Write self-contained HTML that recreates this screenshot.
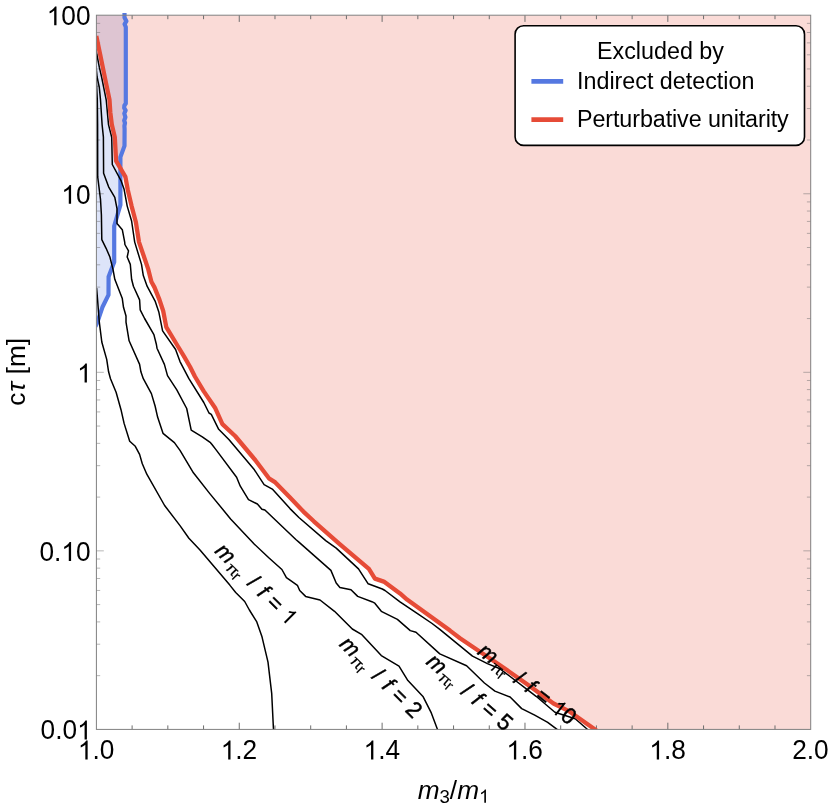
<!DOCTYPE html>
<html><head><meta charset="utf-8"><title>Exclusion plot</title>
<style>html,body{margin:0;padding:0;background:#fff;}body{width:830px;height:806px;overflow:hidden;}svg{display:block;font-family:"Liberation Sans",sans-serif;}text{white-space:pre;}</style></head><body>
<div style="will-change:transform;width:830px;height:806px">
<svg width="830" height="806" viewBox="0 0 830 806">
<rect width="830" height="806" fill="#fff"/>
<defs><clipPath id="cp"><rect x="96.4" y="15.2" width="714.3" height="714.2"/></clipPath><clipPath id="cpb"><rect x="96.4" y="13.0" width="714.3" height="716.4"/></clipPath></defs>
<g clip-path="url(#cp)">
<path d="M124.5,13.0 L124.5,17.5 L126.4,21.2 L124.6,24.2 L125.8,27.0 L125.8,103.5 L124.4,105.5 L124.2,108.0 L125.6,110.4 L124.3,113.5 L125.4,117.2 L124.2,120.5 L125.0,123.0 L124.4,126.0 L124.6,129.0 L124.5,145.9 L120.4,157.1 L120.4,204.9 L114.2,226.0 L114.2,262.0 L108.6,276.8 L108.5,294.9 L102.4,307.3 L97.4,322.2 L95.4,326.5 L95.0,13.2Z" fill="#5578e1" fill-opacity="0.2"/>
<path d="M96.3,36.0 L100.2,54.8 L105.3,79.6 L109.5,99.8 L110.3,112.2 L111.8,124.6 L114.8,137.2 L116.1,160.8 L125.4,176.9 L127.8,190.0 L131.6,206.1 L135.9,222.3 L139.0,242.1 L148.3,269.4 L151.4,281.8 L154.5,287.4 L159.5,299.9 L163.2,311.0 L166.3,327.1 L176.8,344.5 L184.3,356.9 L190.0,366.8 L194.9,376.5 L203.8,391.4 L215.0,407.7 L222.4,424.1 L235.1,436.0 L255.2,460.0 L269.3,478.7 L275.3,482.4 L290.0,497.4 L303.4,511.6 L313.8,521.3 L339.1,543.6 L368.9,568.9 L374.9,578.6 L383.8,581.6 L400.0,593.4 L407.0,599.6 L450.0,630.6 L460.0,638.3 L500.0,665.2 L528.9,685.4 L553.5,703.5 L569.4,711.4 L594.0,728.8 L596.5,730.6 L812.7,731.0 L812.7,13.2 L95.0,13.2Z" fill="#e64b37" fill-opacity="0.2"/>
</g>
<path d="M132.12,729.4v-4.0M132.12,15.2v4.0M167.83,729.4v-4.0M167.83,15.2v4.0M203.55,729.4v-4.0M203.55,15.2v4.0M239.26,729.4v-6.7M239.26,15.2v6.7M274.98,729.4v-4.0M274.98,15.2v4.0M310.69,729.4v-4.0M310.69,15.2v4.0M346.41,729.4v-4.0M346.41,15.2v4.0M382.12,729.4v-6.7M382.12,15.2v6.7M417.84,729.4v-4.0M417.84,15.2v4.0M453.55,729.4v-4.0M453.55,15.2v4.0M489.27,729.4v-4.0M489.27,15.2v4.0M524.98,729.4v-6.7M524.98,15.2v6.7M560.70,729.4v-4.0M560.70,15.2v4.0M596.41,729.4v-4.0M596.41,15.2v4.0M632.13,729.4v-4.0M632.13,15.2v4.0M667.84,729.4v-6.7M667.84,15.2v6.7M703.55,729.4v-4.0M703.55,15.2v4.0M739.27,729.4v-4.0M739.27,15.2v4.0M774.99,729.4v-4.0M774.99,15.2v4.0" stroke="#6e6e6e" stroke-width="1" fill="none"/>
<path d="M96.4,675.65h3.8M810.7,675.65h-3.8M96.4,644.21h3.8M810.7,644.21h-3.8M96.4,621.90h3.8M810.7,621.90h-3.8M96.4,604.60h3.8M810.7,604.60h-3.8M96.4,590.46h3.8M810.7,590.46h-3.8M96.4,578.51h3.8M810.7,578.51h-3.8M96.4,568.15h3.8M810.7,568.15h-3.8M96.4,559.02h3.8M810.7,559.02h-3.8M96.4,550.85h7.4M810.7,550.85h-7.4M96.4,497.10h3.8M810.7,497.10h-3.8M96.4,465.66h3.8M810.7,465.66h-3.8M96.4,443.35h3.8M810.7,443.35h-3.8M96.4,426.05h3.8M810.7,426.05h-3.8M96.4,411.91h3.8M810.7,411.91h-3.8M96.4,399.96h3.8M810.7,399.96h-3.8M96.4,389.60h3.8M810.7,389.60h-3.8M96.4,380.47h3.8M810.7,380.47h-3.8M96.4,372.30h7.4M810.7,372.30h-7.4M96.4,318.55h3.8M810.7,318.55h-3.8M96.4,287.11h3.8M810.7,287.11h-3.8M96.4,264.80h3.8M810.7,264.80h-3.8M96.4,247.50h3.8M810.7,247.50h-3.8M96.4,233.36h3.8M810.7,233.36h-3.8M96.4,221.41h3.8M810.7,221.41h-3.8M96.4,211.05h3.8M810.7,211.05h-3.8M96.4,201.92h3.8M810.7,201.92h-3.8M96.4,193.75h7.4M810.7,193.75h-7.4M96.4,140.00h3.8M810.7,140.00h-3.8M96.4,108.56h3.8M810.7,108.56h-3.8M96.4,86.25h3.8M810.7,86.25h-3.8M96.4,68.95h3.8M810.7,68.95h-3.8M96.4,54.81h3.8M810.7,54.81h-3.8M96.4,42.86h3.8M810.7,42.86h-3.8M96.4,32.50h3.8M810.7,32.50h-3.8M96.4,23.37h3.8M810.7,23.37h-3.8" stroke="#6e6e6e" stroke-width="0.5" fill="none"/>
<path clip-path="url(#cpb)" d="M124.5,13.0 L124.5,17.5 L126.4,21.2 L124.6,24.2 L125.8,27.0 L125.8,103.5 L124.4,105.5 L124.2,108.0 L125.6,110.4 L124.3,113.5 L125.4,117.2 L124.2,120.5 L125.0,123.0 L124.4,126.0 L124.6,129.0 L124.5,145.9 L120.4,157.1 L120.4,204.9 L114.2,226.0 L114.2,262.0 L108.6,276.8 L108.5,294.9 L102.4,307.3 L97.4,322.2 L95.4,326.5" fill="none" stroke="#5578e1" stroke-width="4.2" stroke-linejoin="round"/>
<g clip-path="url(#cp)" fill="none" stroke="#000" stroke-width="1.5" stroke-linejoin="round">
<path d="M96.6,288.0 L97.6,300.0 L99.3,322.2 L101.8,342.0 L106.7,359.4 L108.6,371.8 L110.5,378.7 L116.1,392.3 L121.0,409.7 L124.1,423.4 L129.7,441.3 L135.3,446.3 L139.6,454.4 L142.3,463.8 L146.8,474.2 L164.6,505.5 L180.0,525.6 L188.9,538.3 L200.0,550.1 L229.8,585.1 L235.7,592.5 L244.7,601.5 L249.4,610.0 L256.8,621.9 L262.0,636.8 L268.0,662.1 L271.7,693.4 L273.5,730.0"/>
<path d="M96.2,78.0 L97.3,99.8 L97.6,124.6 L97.7,176.9 L100.5,199.3 L101.4,214.8 L101.8,239.6 L106.1,248.3 L109.9,257.0 L113.0,269.4 L114.8,279.3 L122.3,298.6 L123.5,307.3 L126.0,316.0 L126.0,322.2 L129.1,340.8 L139.6,364.4 L140.9,371.8 L143.3,378.7 L151.4,393.6 L155.1,406.0 L157.6,417.1 L163.0,433.3 L174.4,442.6 L180.0,450.4 L193.4,472.8 L209.8,493.6 L230.6,518.9 L254.4,544.2 L268.5,557.5 L281.9,569.5 L286.4,577.6 L290.0,580.1 L297.4,585.3 L299.7,590.5 L305.6,596.4 L320.0,600.0 L334.5,611.3 L352.3,629.0 L361.9,634.7 L381.3,655.6 L399.0,666.1 L407.9,680.6 L423.2,696.8 L431.3,712.9 L437.7,730.0"/>
<path d="M96.0,66.0 L96.4,70.0 L97.1,77.0 L99.3,87.4 L100.5,99.8 L102.1,124.6 L103.4,137.2 L103.6,173.2 L108.6,186.8 L114.8,197.4 L117.0,208.6 L117.0,223.5 L122.3,229.7 L124.7,242.1 L124.9,244.5 L128.5,250.8 L127.2,257.0 L130.3,264.4 L131.6,279.3 L133.4,286.2 L139.6,299.9 L140.2,309.8 L144.6,318.5 L153.9,334.6 L156.4,344.5 L157.0,348.2 L164.4,364.4 L167.5,375.6 L176.8,389.9 L186.7,408.5 L191.2,430.1 L202.3,436.8 L210.5,442.7 L212.0,444.5 L216.5,450.4 L236.6,477.2 L240.3,486.2 L248.5,499.6 L257.4,504.0 L261.9,509.2 L264.9,510.0 L296.1,539.7 L298.9,542.1 L330.9,570.4 L336.2,583.0 L339.9,587.5 L351.0,589.7 L357.7,596.4 L371.9,601.7 L374.8,603.2 L381.3,611.3 L397.4,619.4 L410.3,630.6 L416.0,632.3 L439.8,653.9 L466.6,665.8 L484.4,683.0 L494.9,691.1 L510.1,697.0 L521.7,708.6 L534.7,715.1 L547.7,722.3 L556.4,728.8 L558.5,730.5"/>
<path d="M95.8,49.0 L96.4,52.0 L99.3,67.2 L101.6,77.0 L106.2,99.8 L108.5,124.6 L111.7,137.2 L112.3,164.5 L121.0,180.6 L124.1,189.3 L127.2,206.1 L131.6,221.0 L134.7,242.1 L141.5,264.4 L143.3,275.6 L147.1,286.2 L155.1,301.1 L158.9,312.3 L162.6,330.9 L175.6,349.5 L180.0,361.6 L188.9,378.7 L203.8,402.5 L209.0,413.0 L211.3,414.4 L218.7,429.3 L229.1,439.7 L254.4,469.8 L264.1,484.7 L272.3,489.1 L290.0,508.6 L298.9,517.5 L325.7,540.6 L336.2,548.1 L358.5,568.9 L368.2,583.8 L382.3,589.0 L385.0,590.5 L400.0,601.8 L417.5,613.7 L432.1,623.5 L439.8,629.4 L472.5,656.2 L487.4,663.6 L500.0,668.8 L536.1,696.3 L554.9,712.2 L575.2,718.7 L586.7,728.8 L588.5,730.5"/>
</g>
<path clip-path="url(#cp)" d="M96.3,36.0 L100.2,54.8 L105.3,79.6 L109.5,99.8 L110.3,112.2 L111.8,124.6 L114.8,137.2 L116.1,160.8 L125.4,176.9 L127.8,190.0 L131.6,206.1 L135.9,222.3 L139.0,242.1 L148.3,269.4 L151.4,281.8 L154.5,287.4 L159.5,299.9 L163.2,311.0 L166.3,327.1 L176.8,344.5 L184.3,356.9 L190.0,366.8 L194.9,376.5 L203.8,391.4 L215.0,407.7 L222.4,424.1 L235.1,436.0 L255.2,460.0 L269.3,478.7 L275.3,482.4 L290.0,497.4 L303.4,511.6 L313.8,521.3 L339.1,543.6 L368.9,568.9 L374.9,578.6 L383.8,581.6 L400.0,593.4 L407.0,599.6 L450.0,630.6 L460.0,638.3 L500.0,665.2 L528.9,685.4 L553.5,703.5 L569.4,711.4 L594.0,728.8 L596.5,730.6" fill="none" stroke="#e64b37" stroke-width="4.3" stroke-linejoin="round"/>
<rect x="96.4" y="15.2" width="714.3" height="714.2" fill="none" stroke="#808080" stroke-width="1"/>
<g transform="translate(214.0,552.1) rotate(45)" font-size="22.0" stroke="#000" stroke-width="0.45" stroke-linejoin="round"><text x="0" y="0" font-style="italic">m</text><text transform="translate(19.1,4.3) scale(1.15,1)" font-size="15.6" stroke-width="0.1">π</text><text x="30.5" y="6.6" font-size="15.6" stroke-width="0.1">r</text><text x="45.6" y="0">/</text><text x="59.9" y="0" font-style="italic">f</text><text x="72.9" y="0">=</text><g transform="translate(0,0.00) scale(1,1.04) translate(0,0.00)"><path transform="translate(92.70,0.00) scale(0.01074,-0.01033)" d="M583 0V1147Q518 1085 412 1023Q307 961 223 930V1104Q374 1175 487 1276Q600 1377 647 1472H763V0Z"/></g></g>
<g transform="translate(338.6,645.2) rotate(45)" font-size="22.0" stroke="#000" stroke-width="0.45" stroke-linejoin="round"><text x="0" y="0" font-style="italic">m</text><text transform="translate(19.1,4.3) scale(1.15,1)" font-size="15.6" stroke-width="0.1">π</text><text x="30.5" y="6.6" font-size="15.6" stroke-width="0.1">r</text><text x="45.6" y="0">/</text><text x="59.9" y="0" font-style="italic">f</text><text x="72.9" y="0">=</text><g transform="translate(0,0.00) scale(1,1.04) translate(0,0.00)"><text x="92.70" y="0.00" font-size="22.0">2</text></g></g>
<g transform="translate(425.3,663.3) rotate(41)" font-size="22.0" stroke="#000" stroke-width="0.45" stroke-linejoin="round"><text x="0" y="0" font-style="italic">m</text><text transform="translate(19.1,4.3) scale(1.15,1)" font-size="15.6" stroke-width="0.1">π</text><text x="30.5" y="6.6" font-size="15.6" stroke-width="0.1">r</text><text x="45.6" y="0">/</text><text x="59.9" y="0" font-style="italic">f</text><text x="72.9" y="0">=</text><g transform="translate(0,0.00) scale(1,1.04) translate(0,0.00)"><text x="92.70" y="0.00" font-size="22.0">5</text></g></g>
<g transform="translate(476.6,653.6) rotate(38)" font-size="22.0" stroke="#000" stroke-width="0.45" stroke-linejoin="round"><text x="0" y="0" font-style="italic">m</text><text transform="translate(19.1,4.3) scale(1.15,1)" font-size="15.6" stroke-width="0.1">π</text><text x="30.5" y="6.6" font-size="15.6" stroke-width="0.1">r</text><text x="45.6" y="0">/</text><text x="59.9" y="0" font-style="italic">f</text><text x="72.9" y="0">=</text><g transform="translate(0,0.00) scale(1,1.04) translate(0,0.00)"><path transform="translate(92.70,0.00) scale(0.01074,-0.01033)" d="M583 0V1147Q518 1085 412 1023Q307 961 223 930V1104Q374 1175 487 1276Q600 1377 647 1472H763V0Z"/><text x="104.93" y="0.00" font-size="22.0">0</text></g></g>
<g transform="translate(0,759.40) scale(1,1.04) translate(0,-759.40)"><path transform="translate(77.86,759.40) scale(0.01282,-0.01233)" d="M583 0V1147Q518 1085 412 1023Q307 961 223 930V1104Q374 1175 487 1276Q600 1377 647 1472H763V0Z"/><text x="92.45" y="759.40" font-size="26.25">.0</text></g>
<g transform="translate(0,759.40) scale(1,1.04) translate(0,-759.40)"><path transform="translate(220.72,759.40) scale(0.01282,-0.01233)" d="M583 0V1147Q518 1085 412 1023Q307 961 223 930V1104Q374 1175 487 1276Q600 1377 647 1472H763V0Z"/><text x="235.31" y="759.40" font-size="26.25">.2</text></g>
<g transform="translate(0,759.40) scale(1,1.04) translate(0,-759.40)"><path transform="translate(363.58,759.40) scale(0.01282,-0.01233)" d="M583 0V1147Q518 1085 412 1023Q307 961 223 930V1104Q374 1175 487 1276Q600 1377 647 1472H763V0Z"/><text x="378.17" y="759.40" font-size="26.25">.4</text></g>
<g transform="translate(0,759.40) scale(1,1.04) translate(0,-759.40)"><path transform="translate(506.44,759.40) scale(0.01282,-0.01233)" d="M583 0V1147Q518 1085 412 1023Q307 961 223 930V1104Q374 1175 487 1276Q600 1377 647 1472H763V0Z"/><text x="521.03" y="759.40" font-size="26.25">.6</text></g>
<g transform="translate(0,759.40) scale(1,1.04) translate(0,-759.40)"><path transform="translate(649.30,759.40) scale(0.01282,-0.01233)" d="M583 0V1147Q518 1085 412 1023Q307 961 223 930V1104Q374 1175 487 1276Q600 1377 647 1472H763V0Z"/><text x="663.89" y="759.40" font-size="26.25">.8</text></g>
<g transform="translate(0,759.40) scale(1,1.04) translate(0,-759.40)"><text x="792.16" y="759.40" font-size="26.25">2.0</text></g>
<g transform="translate(0,25.30) scale(1,1.04) translate(0,-25.30)"><path transform="translate(46.71,25.30) scale(0.01282,-0.01233)" d="M583 0V1147Q518 1085 412 1023Q307 961 223 930V1104Q374 1175 487 1276Q600 1377 647 1472H763V0Z"/><text x="61.31" y="25.30" font-size="26.25">00</text></g>
<g transform="translate(0,203.85) scale(1,1.04) translate(0,-203.85)"><path transform="translate(61.31,203.85) scale(0.01282,-0.01233)" d="M583 0V1147Q518 1085 412 1023Q307 961 223 930V1104Q374 1175 487 1276Q600 1377 647 1472H763V0Z"/><text x="75.91" y="203.85" font-size="26.25">0</text></g>
<g transform="translate(0,382.40) scale(1,1.04) translate(0,-382.40)"><path transform="translate(77.11,382.40) scale(0.01282,-0.01233)" d="M583 0V1147Q518 1085 412 1023Q307 961 223 930V1104Q374 1175 487 1276Q600 1377 647 1472H763V0Z"/></g>
<g transform="translate(0,560.95) scale(1,1.04) translate(0,-560.95)"><text x="39.42" y="560.95" font-size="26.25">0.</text><path transform="translate(61.31,560.95) scale(0.01282,-0.01233)" d="M583 0V1147Q518 1085 412 1023Q307 961 223 930V1104Q374 1175 487 1276Q600 1377 647 1472H763V0Z"/><text x="75.91" y="560.95" font-size="26.25">0</text></g>
<g transform="translate(0,739.50) scale(1,1.04) translate(0,-739.50)"><text x="40.62" y="739.50" font-size="26.25">0.0</text><path transform="translate(77.11,739.50) scale(0.01282,-0.01233)" d="M583 0V1147Q518 1085 412 1023Q307 961 223 930V1104Q374 1175 487 1276Q600 1377 647 1472H763V0Z"/></g>
<text x="417.65" y="799.2" font-size="26.25" font-style="italic">m</text>
<text x="439.52" y="802.8" font-size="18.6">3</text>
<text x="449.86" y="799.2" font-size="26.25">/</text>
<text x="457.16" y="799.2" font-size="26.25" font-style="italic">m</text>
<g transform="translate(0,802.80) scale(1,1.04) translate(0,-802.80)"><path transform="translate(479.02,802.80) scale(0.00908,-0.00874)" d="M583 0V1147Q518 1085 412 1023Q307 961 223 930V1104Q374 1175 487 1276Q600 1377 647 1472H763V0Z"/></g>
<text transform="translate(25.0,405.7) rotate(-90)" font-size="26.25">c<tspan font-style="italic" dx="0.8">τ</tspan><tspan dx="0.3"> [m]</tspan></text>
<rect x="515.1" y="25.7" width="289.4" height="119.7" rx="8.5" ry="8.5" fill="#fff" stroke="#000" stroke-width="1.6"/>
<text x="660.5" y="58.7" font-size="23.3" text-anchor="middle">Excluded by</text>
<path d="M531.4,81.4H563.2" stroke="#5578e1" stroke-width="4.6"/>
<text x="577" y="89" font-size="23.3">Indirect detection</text>
<path d="M531.4,119.6H563.2" stroke="#e64b37" stroke-width="4.6"/>
<text x="577" y="127.2" font-size="23.3" letter-spacing="-0.09">Perturbative unitarity</text>
</svg></div></body></html>
